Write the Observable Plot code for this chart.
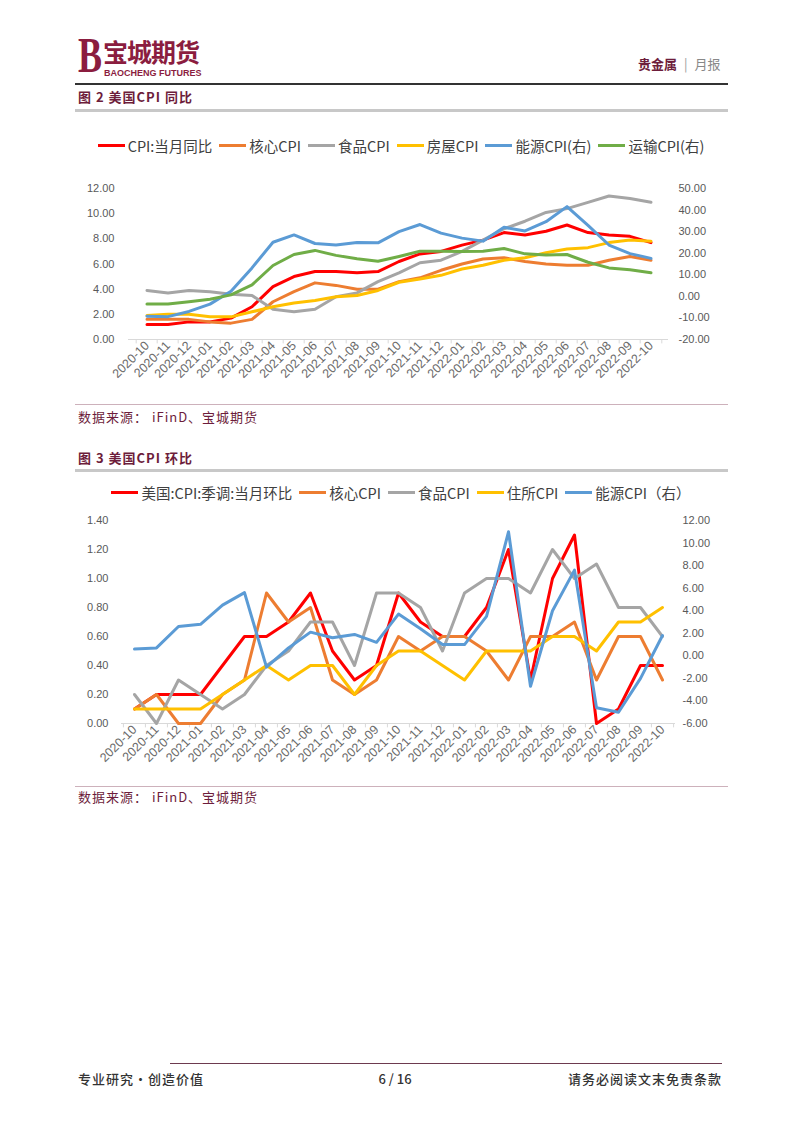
<!DOCTYPE html>
<html><head><meta charset="utf-8">
<script src="https://cdn.jsdelivr.net/npm/d3@7"></script>
<script src="https://cdn.jsdelivr.net/npm/@observablehq/plot@0.6"></script>
<style>
body{margin:0;background:#fff;width:802px;height:1133px;position:relative;overflow:hidden;font-family:"Noto Sans CJK SC","Noto Sans",sans-serif;}
.abs{position:absolute;}
.legend{position:absolute;left:0;width:802px;display:flex;justify-content:center;align-items:center;font-size:14.5px;color:#404040;white-space:nowrap;}
.legend .item{display:flex;align-items:center;margin:0 3.5px;}
.legend .sw{display:inline-block;width:27px;height:3px;margin-right:3px;}
.maroon{color:#6d1d3b;}
.foot{position:absolute;top:1071px;font-size:13px;font-weight:500;color:#333;letter-spacing:1px;line-height:1.3;}
</style></head><body>
<div class="abs" style="left:78px;top:30px;font-family:'Liberation Serif',serif;font-weight:bold;font-size:50px;color:#8b1d3f;transform:scaleX(0.72);transform-origin:left top;line-height:1;">B</div>
<div class="abs" style="left:103px;top:38px;font-size:25px;font-weight:bold;color:#8b1d3f;line-height:1.1;letter-spacing:-1px;">宝城期货</div>
<div class="abs" style="left:104px;top:69px;font-family:'Liberation Sans',sans-serif;font-size:9px;font-weight:bold;color:#8b1d3f;line-height:1;">BAOCHENG FUTURES</div>
<div class="abs" style="left:638px;top:56px;font-size:13px;line-height:1.2;"><span style="color:#6d1d3b;font-weight:bold;">贵金属</span><span style="color:#999;margin:0 7px;">|</span><span style="color:#888;">月报</span></div>
<div class="abs" style="left:75px;top:83px;width:653px;height:1.5px;background:#333;"></div>

<div class="abs maroon" style="left:78px;top:89px;font-size:13px;font-weight:bold;letter-spacing:1px;line-height:1.2;">图 2 美国CPI 同比</div>
<div class="abs" style="left:75px;top:109px;width:653px;height:2.5px;background:#c8c8c8;"></div>
<div class="legend" id="leg1" style="top:135px;height:20px;"></div>
<div class="abs" id="chart1" style="left:0;top:180px;"></div>
<div class="abs" style="left:75px;top:404px;width:653px;height:1px;background:#cdb1bb;"></div>
<div class="abs maroon" style="left:78px;top:409px;font-size:13px;letter-spacing:1px;line-height:1.3;">数据来源： iFinD、宝城期货</div>

<div class="abs maroon" style="left:78px;top:450px;font-size:13px;font-weight:bold;letter-spacing:1px;line-height:1.2;">图 3 美国CPI 环比</div>
<div class="abs" style="left:75px;top:469px;width:653px;height:2.5px;background:#c8c8c8;"></div>
<div class="legend" id="leg2" style="top:482px;height:20px;"></div>
<div class="abs" id="chart2" style="left:0;top:512px;"></div>
<div class="abs" style="left:75px;top:786px;width:653px;height:1px;background:#cdb1bb;"></div>
<div class="abs maroon" style="left:78px;top:789px;font-size:13px;letter-spacing:1px;line-height:1.3;">数据来源： iFinD、宝城期货</div>

<div class="abs" style="left:170px;top:1063px;width:552px;height:1px;background:#6d3a4f;"></div>
<div class="foot" style="left:78px;">专业研究•创造价值</div>
<div class="foot" style="left:0;width:790px;text-align:center;letter-spacing:0;">6 / 16</div>
<div class="foot" style="right:80px;">请务必阅读文末免责条款</div>

<script>
const months = ["2020-10","2020-11","2020-12","2021-01","2021-02","2021-03","2021-04","2021-05","2021-06","2021-07","2021-08","2021-09","2021-10","2021-11","2021-12","2022-01","2022-02","2022-03","2022-04","2022-05","2022-06","2022-07","2022-08","2022-09","2022-10"];

// Figure 2: US CPI YoY (%)
const cpiYoY     = [1.2,1.2,1.4,1.4,1.7,2.6,4.2,5.0,5.4,5.4,5.3,5.4,6.2,6.8,7.0,7.5,7.9,8.5,8.3,8.6,9.1,8.5,8.3,8.2,7.7];
const coreYoY    = [1.6,1.6,1.6,1.4,1.3,1.6,3.0,3.8,4.5,4.3,4.0,4.0,4.6,4.9,5.5,6.0,6.4,6.5,6.2,6.0,5.9,5.9,6.3,6.6,6.3];
const foodYoY    = [3.9,3.7,3.9,3.8,3.6,3.5,2.4,2.2,2.4,3.4,3.7,4.6,5.3,6.1,6.3,7.0,7.9,8.8,9.4,10.1,10.4,10.9,11.4,11.2,10.9];
const housingYoY = [1.9,2.0,2.0,1.8,1.8,2.2,2.6,2.9,3.1,3.4,3.5,3.9,4.55,4.8,5.1,5.6,5.9,6.3,6.5,6.9,7.2,7.3,7.7,7.9,7.8];
const energyYoY  = [-9.2,-9.4,-7.0,-3.6,2.4,13.2,25.1,28.5,24.5,23.8,25.0,24.8,30.0,33.3,29.3,27.0,25.6,32.0,30.3,34.6,41.6,32.9,23.8,19.8,17.6];
const transYoY   = [-3.6,-3.5,-2.5,-1.3,0.7,5.3,14.3,19.4,21.3,19.0,17.4,16.3,18.5,20.9,20.9,20.8,20.9,22.2,19.7,19.2,19.4,15.8,13.2,12.3,10.9];
const leftTicks1  = [0,2,4,6,8,10,12];
const rightTicks1 = [-20,-10,0,10,20,30,40,50];

// Figure 3: US CPI MoM (%)
const cpiMoM     = [0.1,0.2,0.2,0.2,0.4,0.6,0.6,0.7,0.9,0.5,0.3,0.4,0.9,0.7,0.6,0.6,0.8,1.2,0.3,1.0,1.3,0.0,0.1,0.4,0.4];
const coreMoM    = [0.1,0.2,0.0,0.0,0.2,0.3,0.9,0.7,0.8,0.3,0.2,0.3,0.6,0.5,0.6,0.6,0.5,0.3,0.6,0.6,0.7,0.3,0.6,0.6,0.3];
const foodMoM    = [0.2,0.0,0.3,0.2,0.1,0.2,0.4,0.5,0.7,0.7,0.4,0.9,0.9,0.8,0.5,0.9,1.0,1.0,0.9,1.2,1.0,1.1,0.8,0.8,0.6];
const shelterMoM = [0.1,0.1,0.1,0.1,0.2,0.3,0.4,0.3,0.4,0.4,0.2,0.4,0.5,0.5,0.4,0.3,0.5,0.5,0.5,0.6,0.6,0.5,0.7,0.7,0.8];
const energyMoM  = [0.6,0.7,2.6,2.8,4.5,5.6,-1.0,0.7,2.1,1.6,1.9,1.2,3.7,2.4,1.0,1.0,3.5,11.0,-2.7,4.0,7.6,-4.6,-5.0,-2.0,1.8];
const leftTicks2  = [0,0.2,0.4,0.6,0.8,1.0,1.2,1.4];
const rightTicks2 = [-6,-4,-2,0,2,4,6,8,10,12];

const C = {red:"#FF0000", orange:"#ED7D31", gray:"#A5A5A5", yellow:"#FFC000", blue:"#5B9BD5", green:"#70AD47"};

const series1 = [
  {name:"CPI:当月同比", color:C.red, values:cpiYoY, right:false},
  {name:"核心CPI", color:C.orange, values:coreYoY, right:false},
  {name:"食品CPI", color:C.gray, values:foodYoY, right:false},
  {name:"房屋CPI", color:C.yellow, values:housingYoY, right:false},
  {name:"能源CPI(右)", color:C.blue, values:energyYoY, right:true},
  {name:"运输CPI(右)", color:C.green, values:transYoY, right:true}
];
const series2 = [
  {name:"美国:CPI:季调:当月环比", color:C.red, values:cpiMoM, right:false},
  {name:"核心CPI", color:C.orange, values:coreMoM, right:false},
  {name:"食品CPI", color:C.gray, values:foodMoM, right:false},
  {name:"住所CPI", color:C.yellow, values:shelterMoM, right:false},
  {name:"能源CPI（右）", color:C.blue, values:energyMoM, right:true}
];

function legend(id, series){
  const el = document.getElementById(id);
  for (const s of series){
    const it = document.createElement("div"); it.className="item";
    const sw = document.createElement("span"); sw.className="sw"; sw.style.background=s.color;
    const tx = document.createElement("span"); tx.textContent = s.name;
    it.appendChild(sw); it.appendChild(tx); el.appendChild(it);
  }
}
legend("leg1", series1);
legend("leg2", series2);

function dualChart(cfg){
  const {series, lMin, lMax, rMin, rMax, leftTicks, rightTicks, width, height, mL, mR, mT, mB, lPad, rPad, tickLen} = cfg;
  const toLeft = v => lMin + (v - rMin) * (lMax - lMin) / (rMax - rMin);
  const toRight = d => rMin + (d - lMin) * (rMax - rMin) / (lMax - lMin);
  const bw = (width - mL - mR) / months.length;
  const lineMarks = series.map(s => Plot.line(
    s.values.map((v,i) => ({month: months[i], value: s.right ? toLeft(v) : v})),
    {x:"month", y:"value", stroke:s.color, strokeWidth:3, strokeLinejoin:"round", strokeLinecap:"round"}
  ));
  return Plot.plot({
    width, height, marginLeft:mL, marginRight:mR, marginTop:mT, marginBottom:mB,
    style:{fontFamily:"'Liberation Sans', Arial, sans-serif", fontSize:"11px", color:"#595959", background:"transparent", overflow:"visible"},
    x:{type:"band", domain:months, padding:0, label:null},
    y:{domain:[lMin,lMax], label:null},
    marks:[
      Plot.axisY(leftTicks, {anchor:"left", tickSize:0, tickPadding:lPad, tickFormat:d=>d.toFixed(2), fill:"#595959"}),
      Plot.axisY(rightTicks.map(toLeft), {anchor:"right", tickSize:0, tickPadding:rPad, tickFormat:d=>(Math.round(toRight(d)*100)/100).toFixed(2), fill:"#595959"}),
      Plot.axisX(months, {tickSize:0, tickRotate:-45, tickPadding:4, fill:"#6a6a6a", fontSize:12.5}),
      Plot.ruleX(months, {x:d=>d, y1:lMin, y2:lMin - tickLen, dx:-bw/2, stroke:"#d9d9d9"}),
      Plot.ruleX([months[months.length-1]], {x:d=>d, y1:lMin, y2:lMin - tickLen, dx:bw/2, stroke:"#d9d9d9"}),
      Plot.ruleY([lMin], {stroke:"#d9d9d9"}),
      ...lineMarks
    ]
  });
}

document.getElementById("chart1").appendChild(dualChart({
  series:series1, lMin:0, lMax:12, rMin:-20, rMax:50, leftTicks:leftTicks1, rightTicks:rightTicks1,
  width:802, height:225, mL:128, mR:134, mT:8, mB:66, lPad:14, rPad:10, tickLen:0.35
}));
document.getElementById("chart2").appendChild(dualChart({
  series:series2, lMin:0, lMax:1.4, rMin:-6, rMax:12, leftTicks:leftTicks2, rightTicks:rightTicks2,
  width:802, height:270, mL:121, mR:127, mT:8, mB:59, lPad:13, rPad:7, tickLen:0.03
}));
</script>
</body></html>
